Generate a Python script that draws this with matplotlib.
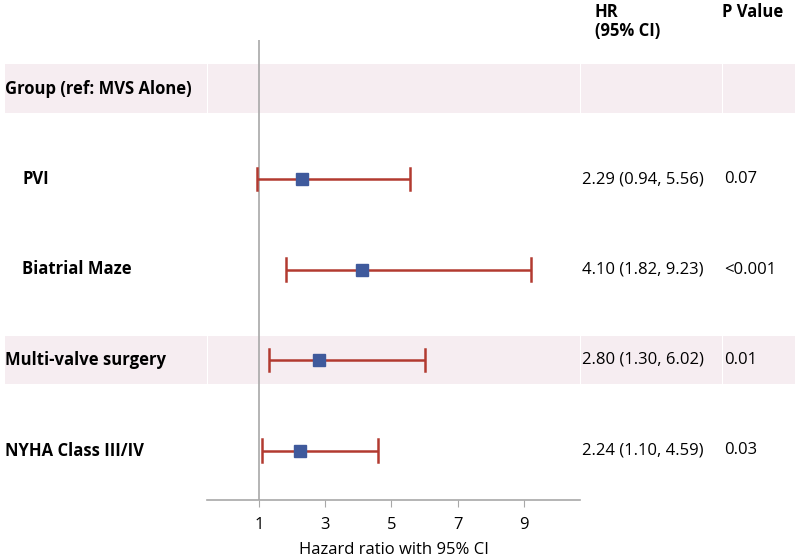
import matplotlib
matplotlib.use("Agg")
import matplotlib.pyplot as plt
from matplotlib.patches import Rectangle

plt.rcParams['font.family'] = ['Open Sans', 'DejaVu Sans']

labels = ["Group (ref: MVS Alone)", "PVI", "Biatrial Maze", "Multi-valve surgery", "NYHA Class III/IV"]
indent = [False, True, True, False, False]
hr = [None, 2.29, 4.10, 2.80, 2.24]
lo = [None, 0.94, 1.82, 1.30, 1.10]
hi = [None, 5.56, 9.23, 6.02, 4.59]
pvals = ["", "0.07", "<0.001", "0.01", "0.03"]
shaded = [True, False, False, True, False]
xticks = [1, 3, 5, 7, 9]

W, H = 800, 559
fig = plt.figure(figsize=(W / 100, H / 100), dpi=100)

# row mapping: pixel y = 88.5 + 90.5*r
def r_of(py):
    return (py - 88.5) / 90.5

bg = fig.add_axes([0, 0, 1, 1])
bg.set_xlim(0, W)
bg.set_ylim(r_of(H), r_of(0))
bg.axis('off')

band_col = '#F6EDF1'
segments = [(5, 206.5), (207.8, 579.5), (580.8, 721.5), (722.8, 795)]
for i, s in enumerate(shaded):
    if s:
        for a, b in segments:
            bg.add_patch(Rectangle((a, i - 0.27), b - a, 0.54, facecolor=band_col,
                                   edgecolor='none', zorder=0))

lab_fs = 12
num_fs = 12
for i, lab in enumerate(labels):
    bg.text(22 if indent[i] else 5, i, lab, fontsize=lab_fs, fontweight='bold',
            va='center', ha='left', color='black')
    if hr[i] is not None:
        bg.text(582, i, f"{hr[i]:.2f} ({lo[i]:.2f}, {hi[i]:.2f})", fontsize=num_fs,
                va='center', ha='left', color='black')
        bg.text(724, i, pvals[i], fontsize=num_fs, va='center', ha='left', color='black')

bg.text(595, r_of(12), "HR", fontsize=num_fs, fontweight='bold', va='center', ha='left')
bg.text(595, r_of(31), "(95% CI)", fontsize=num_fs, fontweight='bold', va='center', ha='left')
bg.text(722, r_of(12), "P Value", fontsize=num_fs, fontweight='bold', va='center', ha='left')

# main axes
left_px, right_px, top_px, bot_px = 207, 580, 40, 500
ax = fig.add_axes([left_px / W, (H - bot_px) / H, (right_px - left_px) / W, (bot_px - top_px) / H])
ax.patch.set_alpha(0)
ax.set_ylim(r_of(bot_px), r_of(top_px))
ax.set_xlim(-0.57, 10.7)

ax.axvline(1, color='#A8A8A8', lw=1.2, zorder=1)
for i in range(len(labels)):
    if hr[i] is None:
        continue
    ax.plot([lo[i], hi[i]], [i, i], color='#B23A30', lw=1.8, zorder=2, solid_capstyle='butt')
    for x in (lo[i], hi[i]):
        ax.plot([x, x], [i - 0.125, i + 0.125], color='#B23A30', lw=1.8, zorder=2)
    ax.plot(hr[i], i, marker='s', ms=8, color='#3F5A9C', mec='#3F5A9C', zorder=3, ls='none')

for sp in ['top', 'right', 'left']:
    ax.spines[sp].set_visible(False)
ax.spines['bottom'].set_color('#A8A8A8')
ax.spines['bottom'].set_linewidth(1.2)
ax.set_yticks([])
ax.set_xticks(xticks)
ax.set_xticklabels([str(t) for t in xticks], fontsize=12)
ax.tick_params(axis='x', length=5, color='#A8A8A8', pad=7)
ax.set_xlabel("Hazard ratio with 95% CI", fontsize=12, labelpad=7)

fig.savefig("out.png", dpi=100)
